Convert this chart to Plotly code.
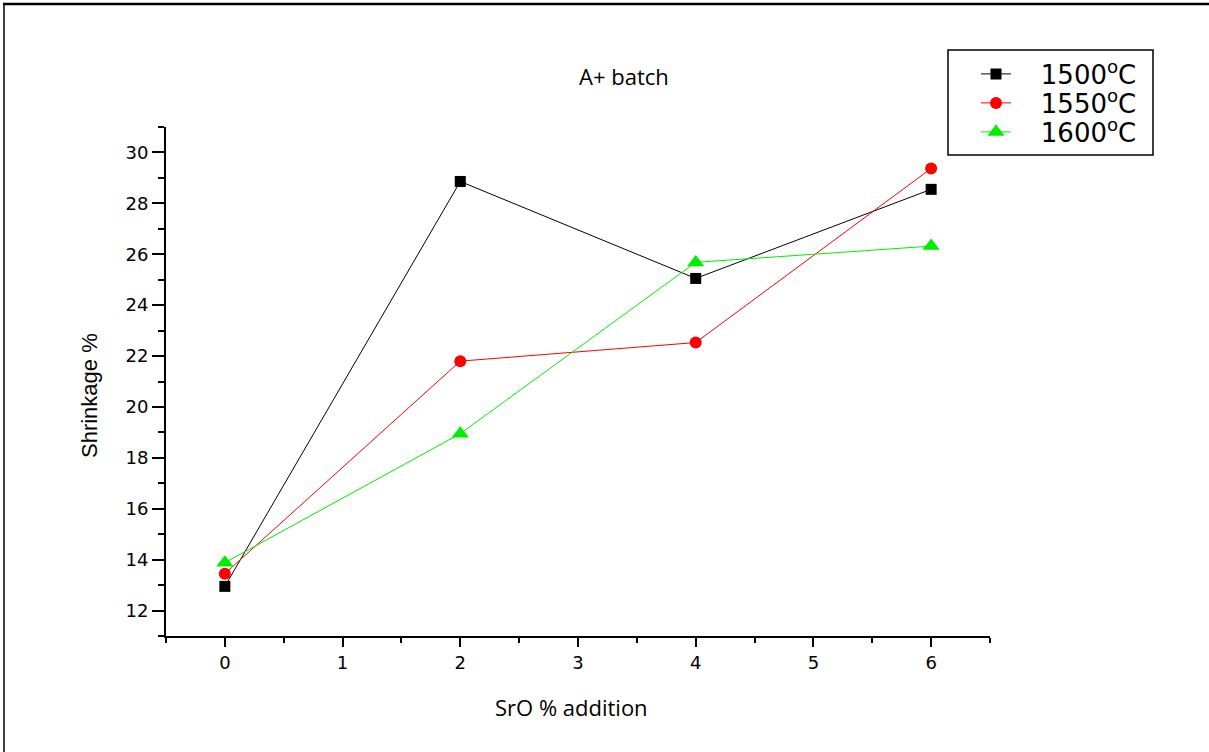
import plotly.graph_objects as go

sro = [0, 2, 4, 6]
s1500 = [12.95, 28.86, 25.05, 28.55]
s1550 = [13.45, 21.8, 22.53, 29.37]
s1600 = [13.88, 18.95, 25.68, 26.32]
names = ["\u00a0\u00a0\u00a01500<sup>o</sup>C", "\u00a0\u00a0\u00a01550<sup>o</sup>C", "\u00a0\u00a0\u00a01600<sup>o</sup>C"]

W, H = 1209, 752
L, R, T, B = 166, 219, 127, 116
pw, ph = W - L - R, H - T - B

def px(x):
    return (x - L) / pw

def py(y):
    return (H - B - y) / ph

fig = go.Figure()
fig.add_trace(go.Scatter(x=sro, y=s1500, name=names[0], mode="lines+markers", legend="legend",
                         line=dict(color="black", width=1),
                         marker=dict(symbol="square", size=11, color="black")))
fig.add_trace(go.Scatter(x=sro, y=s1550, name=names[1], mode="lines+markers", legend="legend2",
                         line=dict(color="#ff0000", width=1),
                         marker=dict(symbol="circle", size=12, color="#ff0000")))
fig.add_trace(go.Scatter(x=sro, y=s1600, name=names[2], mode="lines+markers", legend="legend3",
                         line=dict(color="#00ee00", width=1),
                         marker=dict(symbol="triangle-up", size=15, color="#00ee00")))

tickfont = dict(family="DejaVu Sans", size=18, color="black")

def leg(yc):
    return dict(x=px(976), y=py(yc), xanchor="left", yanchor="middle",
                borderwidth=0, bgcolor="rgba(0,0,0,0)",
                font=dict(family="DejaVu Sans", size=26, color="black"))

fig.update_layout(
    width=W, height=H,
    margin=dict(l=L, r=R, t=T, b=B, pad=0),
    plot_bgcolor="white", paper_bgcolor="white",
    showlegend=True,
    legend=leg(74), legend2=leg(103), legend3=leg(132),
    xaxis=dict(range=[-0.5, 6.5], tickmode="array", tickvals=[0, 1, 2, 3, 4, 5, 6],
               showline=True, linecolor="black", linewidth=2, showgrid=False, zeroline=False,
               ticks="outside", ticklen=9, tickwidth=2, tickcolor="black",
               minor=dict(dtick=0.5, tick0=-0.5, ticks="outside", ticklen=5, tickwidth=2,
                          tickcolor="black", showgrid=False),
               tickfont=tickfont),
    yaxis=dict(range=[11, 31], tickmode="array", tickvals=[12, 14, 16, 18, 20, 22, 24, 26, 28, 30],
               showline=True, linecolor="black", linewidth=2, showgrid=False, zeroline=False,
               ticks="outside", ticklen=12, tickwidth=2, tickcolor="black",
               minor=dict(dtick=1, tick0=11, ticks="outside", ticklen=6, tickwidth=2,
                          tickcolor="black", showgrid=False),
               tickfont=tickfont),
    annotations=[
        dict(text="A+ batch", x=px(624), y=py(76), xref="paper", yref="paper",
             showarrow=False, xanchor="center", yanchor="middle",
             font=dict(family="Open Sans", size=22, color="black")),
        dict(text="SrO % addition", x=px(571), y=py(707), xref="paper", yref="paper",
             showarrow=False, xanchor="center", yanchor="middle",
             font=dict(family="Open Sans", size=22, color="black")),
        dict(text="Shrinkage %", x=px(89), y=py(396), xref="paper", yref="paper",
             showarrow=False, xanchor="center", yanchor="middle", textangle=-90,
             font=dict(family="Liberation Sans, Arial", size=22, color="black")),
    ],
    shapes=[
        dict(type="line", xref="paper", yref="paper", x0=px(3), x1=px(W + 5), y0=py(4), y1=py(4),
             line=dict(color="black", width=2.5)),
        dict(type="line", xref="paper", yref="paper", x0=px(4), x1=px(4), y0=py(3), y1=py(H + 5),
             line=dict(color="black", width=1.5)),
        dict(type="rect", xref="paper", yref="paper", x0=px(948), x1=px(1153), y0=py(50), y1=py(155),
             line=dict(color="black", width=1.5), fillcolor="rgba(0,0,0,0)"),
    ],
)

fig.write_html("out.html", config={"displayModeBar": False},
               post_script="document.body.style.margin='0px';")
